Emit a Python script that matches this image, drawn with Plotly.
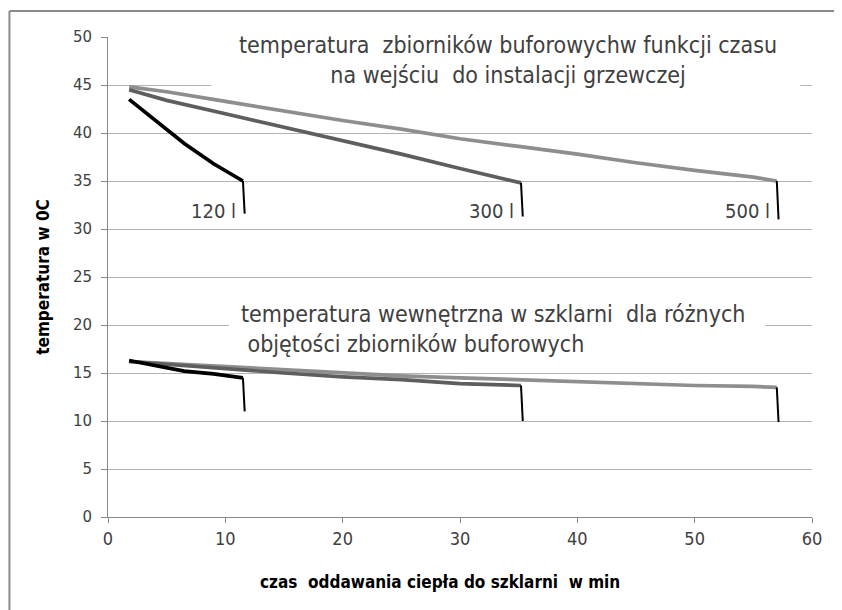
import plotly.graph_objects as go

# czas [min] i temperatury
t120 = [1.8, 4.0, 6.5, 9.0, 11.5]
tank120 = [43.5, 41.4, 38.9, 36.8, 35.0]
green120 = [16.3, 15.8, 15.2, 14.9, 14.5]

t300 = [1.8, 5, 10, 15, 20, 25, 30, 35.2]
tank300 = [44.5, 43.4, 42.0, 40.6, 39.2, 37.8, 36.3, 34.8]
green300 = [16.2, 15.9, 15.4, 15.0, 14.6, 14.3, 13.9, 13.7]

t500 = [1.8, 5, 10, 15, 20, 25, 30, 35, 40, 45, 50, 55, 57]
tank500 = [44.8, 44.3, 43.3, 42.3, 41.3, 40.4, 39.4, 38.6, 37.8, 36.9, 36.1, 35.4, 35.0]
green500 = [16.2, 16.0, 15.6, 15.3, 15.0, 14.7, 14.5, 14.3, 14.1, 13.9, 13.7, 13.6, 13.5]

# pionowe kreski na końcach krzywych
drop_top = [31.6, 31.3, 31.0]
drop_bottom = [11.0, 10.0, 9.9]
labels = ["120 l", "300 l", "500 l"]

FONT = "DejaVu Sans Condensed, sans-serif"
colors = ["#000000", "#5e5e5e", "#8e8e8e"]

fig = go.Figure()

series = [
    (t120, tank120, green120),
    (t300, tank300, green300),
    (t500, tank500, green500),
]

# jasniejsze pod spodem
for i in [2, 1, 0]:
    t, tank, green = series[i]
    for yy in (tank, green):
        fig.add_trace(go.Scatter(x=t, y=yy, mode="lines",
                                 line=dict(color=colors[i], width=3.7),
                                 showlegend=False, hoverinfo="skip"))

for i in range(3):
    t, tank, green = series[i]
    xe = t[-1]
    fig.add_trace(go.Scatter(x=[xe, xe + 0.15], y=[tank[-1], drop_top[i]], mode="lines",
                             line=dict(color="black", width=2), showlegend=False))
    fig.add_trace(go.Scatter(x=[xe, xe + 0.15], y=[green[-1], drop_bottom[i]], mode="lines",
                             line=dict(color="black", width=2), showlegend=False))
    fig.add_annotation(x=xe - 0.4, y=31.9, text=labels[i], showarrow=False,
                       xanchor="right", yanchor="middle",
                       font=dict(family=FONT, size=20, color="#404040"))

# biale tlo pod opisami
fig.add_shape(type="rect", x0=8.8, x1=59.0, y0=42.5, y1=51, layer="between",
              fillcolor="white", line_width=0)
fig.add_shape(type="rect", x0=10.3, x1=56.0, y0=17.5, y1=22, layer="between",
              fillcolor="white", line_width=0)

fig.add_annotation(x=34.1, y=47.6, xref="x", yref="y", showarrow=False,
                   text="temperatura  zbiorników buforowychw funkcji czasu<br>na wejściu  do instalacji grzewczej",
                   align="center", font=dict(family=FONT, size=23, color="#404040"))
fig.add_annotation(x=11.2, y=19.6, xref="x", yref="y", showarrow=False, xanchor="left",
                   text="temperatura wewnętrzna w szklarni  dla różnych<br> objętości zbiorników buforowych",
                   align="left", font=dict(family=FONT, size=23, color="#404040"))

fig.add_annotation(x=(440 - 108) / 704, y=-0.135, xref="paper", yref="paper", showarrow=False,
                   xanchor="center", yanchor="middle",
                   text="<b>czas  oddawania ciepła do szklarni  w min</b>",
                   font=dict(family=FONT, size=17, color="black"))

# ramka wykresu
fig.add_shape(type="line", xref="paper", yref="paper", x0=-0.14, x1=1.1, y0=1.054, y1=1.054,
              line=dict(color="#8a8a8a", width=2))
fig.add_shape(type="line", xref="paper", yref="paper", x0=-0.14, x1=-0.14, y0=1.054, y1=-0.2,
              line=dict(color="#8a8a8a", width=2))

fig.update_layout(
    width=834, height=602,
    margin=dict(l=100, r=30, t=29, b=93),
    paper_bgcolor="white", plot_bgcolor="white",
    xaxis=dict(range=[0, 60], dtick=10, showgrid=False, zeroline=False,
               showline=True, linecolor="#8a8a8a", ticks="outside", ticklen=5,
               tickcolor="#8a8a8a",
               tickfont=dict(family=FONT, size=18, color="#404040")),
    yaxis=dict(range=[0, 50], dtick=5, showgrid=True, gridcolor="#b4b4b4", zeroline=False,
               showline=True, linecolor="#8a8a8a", ticks="outside", ticklen=6,
               tickcolor="#8a8a8a", ticklabelstandoff=6,
               tickfont=dict(family="DejaVu Sans, Verdana, sans-serif", size=15, color="#404040"),
               title=dict(text="<b>temperatura w 0C</b>", standoff=18,
                          font=dict(family=FONT, size=17, color="black"))),
)

fig.write_html("out.html")
